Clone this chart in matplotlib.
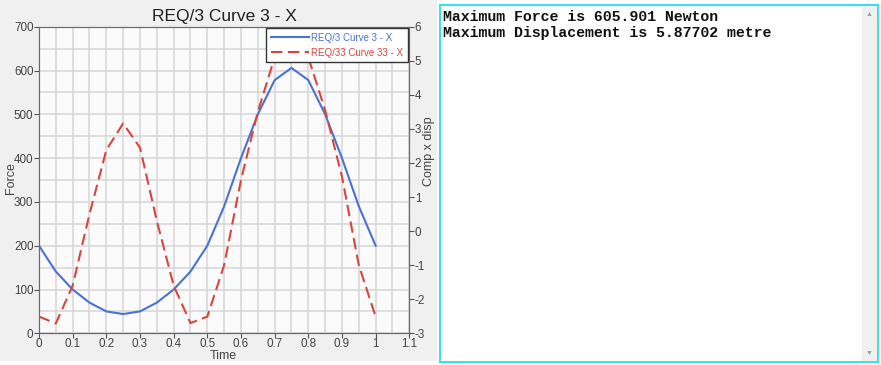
import matplotlib.pyplot as plt
import numpy as np
from matplotlib.patches import Rectangle

# data
time = [0, 0.05, 0.1, 0.15, 0.2, 0.25, 0.3, 0.35, 0.4, 0.45, 0.5,
        0.55, 0.6, 0.65, 0.7, 0.75, 0.8, 0.85, 0.9, 0.95, 1.0]
force = [200, 141, 100, 70, 50, 44, 50, 70, 100, 141, 200,
         290, 400, 500, 578, 606, 578, 500, 400, 290, 200]
disp = [-2.51, -2.71, -1.6, 0.5, 2.38, 3.16, 2.45, 0.3, -1.6, -2.7, -2.51,
        -1.0, 1.5, 3.5, 5.1, 5.877, 5.1, 3.55, 1.6, -1.0, -2.51]

title = "REQ/3 Curve 3 - X"
label_force = "REQ/3 Curve 3 - X"
label_disp = "REQ/33 Curve 33 - X"
messages = ["Maximum Force is 605.901 Newton",
            "Maximum Displacement is 5.87702 metre"]

plt.rcParams['font.family'] = ['Liberation Sans', 'DejaVu Sans']
plt.rcParams['axes.unicode_minus'] = False

W, H = 881, 365
fig = plt.figure(figsize=(W / 100, H / 100), dpi=100)
fig.patch.set_facecolor("white")

def fx(px):
    return px / W

def fy(py):
    return 1 - py / H

# left grey panel, behind the axes
fig.patches.append(Rectangle((0, fy(361)), fx(437), fy(0) - fy(361),
                             transform=fig.transFigure, facecolor="#f0f0f0",
                             edgecolor="none", zorder=-10))

# plot area
x0, x1, y0, y1 = 39, 409.3, 26.7, 333.3
ax = fig.add_axes([fx(x0), fy(y1), fx(x1) - fx(x0), fy(y0) - fy(y1)])
ax.set_facecolor("#fbfbfb")
ax.plot(time, force, color="#4a72d4", lw=1.5, label=label_force, zorder=3)
ax.set_xlim(0, 1.1)
ax.set_ylim(0, 700)
ax.set_xticks(np.arange(0, 1.11, 0.1))
ax.set_xticklabels(["0", "0.1", "0.2", "0.3", "0.4", "0.5", "0.6",
                    "0.7", "0.8", "0.9", "1", "1.1"])
ax.set_xticks(np.arange(0, 1.11, 0.05), minor=True)
ax.set_yticks(np.arange(0, 701, 100))
ax.set_yticks(np.arange(0, 701, 50), minor=True)
ax.grid(True, which="both", color="#d6d6d6", lw=1.1)
ax.set_axisbelow(True)
ax.tick_params(which="minor", length=0)
ax.tick_params(which="major", length=3.5, width=0.8, labelsize=8.4, colors="#555555",
               labelcolor="#444444", pad=0.5)
ax.tick_params(axis="x", pad=0)
for s in ax.spines.values():
    s.set_color("#6a6a6a")
ax.set_xlabel("Time", fontsize=9, color="#444444")
ax.xaxis.set_label_coords((223 - x0) / (x1 - x0), (y1 - 350) / (y1 - y0))
ax.set_ylabel("Force", fontsize=9, color="#444444")
ax.yaxis.set_label_coords((16.5 - x0) / (x1 - x0), (y1 - 178) / (y1 - y0))
ax.set_title(title, fontsize=12.5, color="#222222", pad=4)

ax2 = ax.twinx()
ax2.plot(time, disp, color="#d9453d", lw=1.5, dashes=(5.5, 2.6), label=label_disp, zorder=3)
ax2.set_ylim(-3, 6)
ax2.set_yticks(np.arange(-3, 7, 1))
ax2.tick_params(length=3.5, width=0.8, labelsize=8.4, colors="#555555",
                labelcolor="#444444", pad=0.5)
ax2.set_ylabel("Comp x disp", fontsize=9, color="#444444")
ax2.yaxis.set_label_coords((423 - x0) / (x1 - x0), (y1 - 151) / (y1 - y0))
for s in ax2.spines.values():
    s.set_color("#6a6a6a")

h1, l1 = ax.get_legend_handles_labels()
h2, l2 = ax2.get_legend_handles_labels()
leg = ax2.legend(h1 + h2, l1 + l2, loc="upper right", fontsize=7,
                 fancybox=False, framealpha=1, edgecolor="#333333",
                 borderaxespad=0.15, handlelength=3.9, handletextpad=0.3,
                 labelspacing=0.55, borderpad=0.45)
leg.get_frame().set_linewidth(1.0)
for t, c in zip(leg.get_texts(), ["#4a72d4", "#d9453d"]):
    t.set_color(c)
leg.set_zorder(10)

# text panel on the right
fig.patches.append(Rectangle((fx(440), fy(362)), fx(878) - fx(440), fy(5) - fy(362),
                             transform=fig.transFigure, facecolor="white",
                             edgecolor="#3ee0e8", lw=1.5, zorder=1))
fig.patches.append(Rectangle((fx(862), fy(361)), fx(877) - fx(862), fy(6) - fy(361),
                             transform=fig.transFigure, facecolor="#f0f0f0",
                             edgecolor="none", zorder=2))
fig.text(fx(869.5), fy(14), "\u25b2", fontsize=5, color="#a0a0a0",
         ha="center", va="center", zorder=3)
fig.text(fx(869.5), fy(353), "\u25bc", fontsize=5, color="#a0a0a0",
         ha="center", va="center", zorder=3)

for i, msg in enumerate(messages):
    fig.text(fx(443), fy(21 + 16.5 * i), msg, family="Liberation Mono",
             fontweight="bold", fontsize=10.7, color="#111111",
             ha="left", va="baseline", zorder=3)

fig.savefig("out.png", dpi=100)
